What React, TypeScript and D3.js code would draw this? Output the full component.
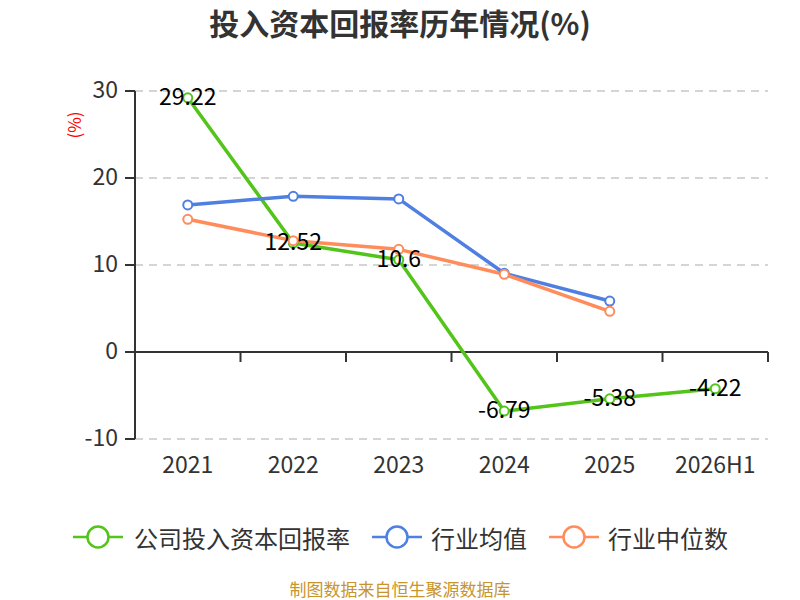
import React from 'react';
import * as d3 from 'd3';

const years = ['2021', '2022', '2023', '2024', '2025', '2026H1'];
const companyRoic = [29.22, 12.52, 10.6, -6.79, -5.38, -4.22];
const industryAvg = [16.9, 17.9, 17.6, 9.05, 5.86];
const industryMedian = [15.25, 12.8, 11.8, 8.93, 4.68];
const yTicks = [-10, 0, 10, 20, 30];

const seriesNames = ['公司投入资本回报率', '行业均值', '行业中位数'];
const seriesColors = ['#52c41a', '#4e7fe1', '#ff8c5a'];

const width = 800;
const height = 600;
const margin = { top: 91, right: 32, bottom: 161, left: 135 };
const font = '"Noto Sans CJK SC", "Noto Sans", sans-serif';

const App: React.FC = () => {
    const x = d3.scaleBand<string>()
        .domain(years)
        .range([margin.left, width - margin.right]);
    const y = d3.scaleLinear()
        .domain([-10, 30])
        .range([height - margin.bottom, margin.top]);

    const cx = (i: number) => (x(years[i]) as number) + x.bandwidth() / 2;
    const line = d3.line<number>()
        .x((_, i) => cx(i))
        .y(d => y(d));

    const allSeries = [companyRoic, industryAvg, industryMedian];
    const zeroY = y(0);

    // legend: symbol start and text start
    const legendItems = [
        { x: 73, textX: 134 },
        { x: 372, textX: 431 },
        { x: 549, textX: 608 },
    ];
    const legendY = 537;

    return (
        <svg width={width} height={height} style={{ position: 'absolute', left: 0, top: 0 }} fontFamily={font}>
            <rect width={width} height={height} fill="#fff" />
            <text x={400} y={22} textAnchor="middle" dominantBaseline="central" fontSize={30} fontWeight="bold" fill="#333">
                投入资本回报率历年情况(%)
            </text>
            <text transform={`translate(73,125) rotate(-90)`} textAnchor="middle" dominantBaseline="central" fontSize={17} fill="#ff0000">
                (%)
            </text>

            {/* grid and y axis */}
            {yTicks.filter(t => t !== 0).map(t => (
                <line key={t} x1={margin.left} x2={width - margin.right} y1={y(t)} y2={y(t)}
                    stroke="#c8c8c8" strokeWidth={1.5} strokeDasharray="8,6" />
            ))}
            <line x1={margin.left} x2={margin.left} y1={y(30)} y2={y(-10)} stroke="#333" strokeWidth={2} />
            {yTicks.map(t => (
                <g key={t}>
                    <line x1={margin.left - 10} x2={margin.left} y1={y(t)} y2={y(t)} stroke="#333" strokeWidth={2} />
                    <text x={margin.left - 17} y={y(t) - 3} textAnchor="end" dominantBaseline="central" fontSize={23} fill="#333">
                        {t}
                    </text>
                </g>
            ))}

            {/* x axis at zero */}
            <line x1={margin.left} x2={width - margin.right} y1={zeroY} y2={zeroY} stroke="#333" strokeWidth={2} />
            {years.map(yr => (
                <line key={yr} x1={(x(yr) as number) + x.bandwidth()} x2={(x(yr) as number) + x.bandwidth()}
                    y1={zeroY} y2={zeroY + 10} stroke="#333" strokeWidth={2} />
            ))}
            {years.map((yr, i) => (
                <text key={yr} x={cx(i)} y={463} textAnchor="middle" dominantBaseline="central" fontSize={23} fill="#333">
                    {yr}
                </text>
            ))}

            {/* lines */}
            {allSeries.map((s, si) => (
                <path key={si} d={line(s) || ''} fill="none" stroke={seriesColors[si]} strokeWidth={3.5} strokeLinejoin="round" />
            ))}
            {allSeries.map((s, si) => s.map((v, i) => (
                <circle key={`${si}-${i}`} cx={cx(i)} cy={y(v)} r={4.5} fill="#fff" stroke={seriesColors[si]} strokeWidth={2} />
            )))}

            {/* data labels */}
            {companyRoic.map((v, i) => (
                <text key={i} x={cx(i)} y={y(v) - 3} textAnchor="middle" dominantBaseline="central" fontSize={23} fill="#000">
                    {v}
                </text>
            ))}

            {/* legend */}
            {seriesNames.map((name, i) => (
                <g key={name}>
                    <line x1={legendItems[i].x} x2={legendItems[i].x + 50} y1={legendY} y2={legendY} stroke={seriesColors[i]} strokeWidth={2.5} />
                    <circle cx={legendItems[i].x + 25} cy={legendY} r={10.5} fill="#fff" stroke={seriesColors[i]} strokeWidth={2.5} />
                    <text x={legendItems[i].textX} y={legendY} dominantBaseline="central" fontSize={24} fill="#333">
                        {name}
                    </text>
                </g>
            ))}

            <text x={400} y={588} textAnchor="middle" dominantBaseline="central" fontSize={17} fill="#c8952c">
                制图数据来自恒生聚源数据库
            </text>
        </svg>
    );
};

export default App;
